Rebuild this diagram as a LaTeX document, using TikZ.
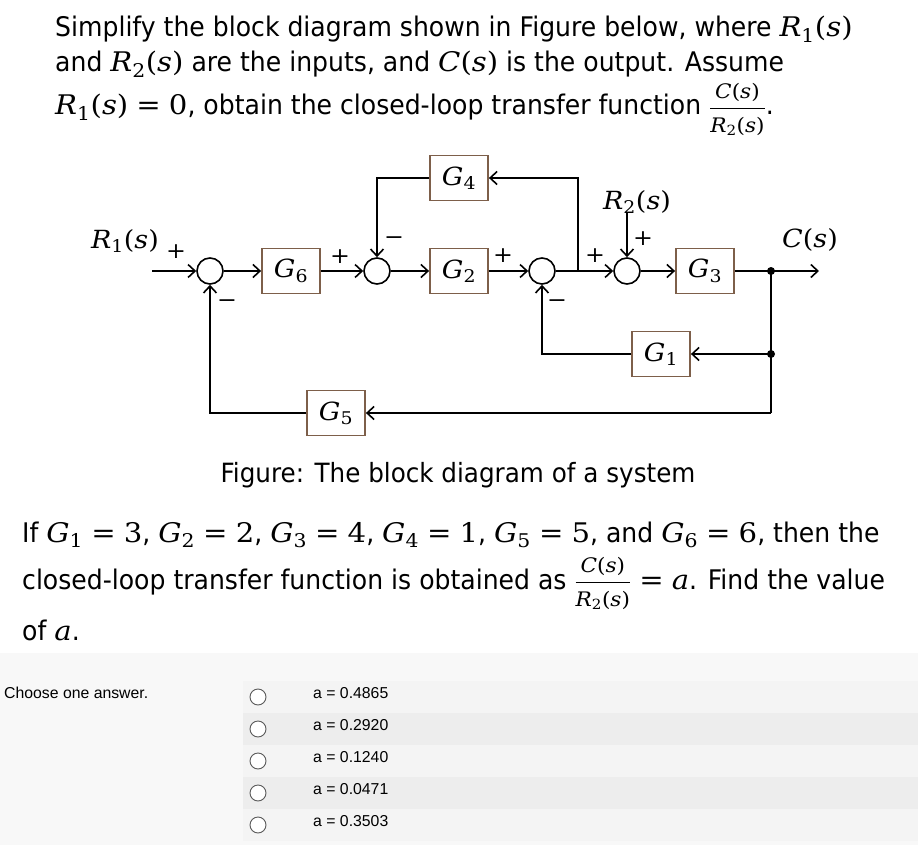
\documentclass[tikz,border=0pt]{standalone}
\usepackage{fontspec}
\setmainfont{DejaVu Sans}[FakeStretch=0.93]
\newfontfamily\arialf{Liberation Sans}
\newfontfamily\mfont{DejaVu Serif}[FakeStretch=1.08]
\usepackage{amsmath}
\usetikzlibrary{arrows.meta}
\newcommand\vi[1]{{\mfont\itshape #1}}
\newcommand\nm[1]{{\mfont #1}}
\newcommand\sbs[1]{\textsubscript{\mfont #1}}
\newcommand\meq{\hspace{0.3em}{\mfont =}\hspace{0.3em}}
\newcommand\Rs[1]{\vi{R}\sbs{#1}\nm{(}\vi{s}\nm{)}}
\newcommand\Cs{\vi{C}\nm{(}\vi{s}\nm{)}}
\newcommand\Gs[1]{\vi{G}\sbs{#1}}
\newcommand\frx{$\displaystyle\frac{\hbox{\fontsize{20}{20}\selectfont\Cs}}{\hbox{\fontsize{20}{20}\selectfont\Rs{2}}}$}
\definecolor{boxbrown}{HTML}{7D5F4A}
\definecolor{pagebg}{HTML}{F8F8F8}
\definecolor{rowlight}{HTML}{F4F4F4}
\definecolor{rowdark}{HTML}{EDEDED}
\definecolor{radiogray}{HTML}{5A5A5A}
\begin{document}
\begin{tikzpicture}[x=1pt,y=-1pt,
  blk/.style={draw=boxbrown, line width=1.8pt, minimum width=58pt, minimum height=45pt, inner sep=0pt, font=\fontsize{25}{28}\selectfont},
  sumj/.style={circle, draw, line width=1.6pt, minimum size=26pt, inner sep=0pt},
  sig/.style={line width=1.6pt, -{Straight Barb[length=7pt,width=13pt,line width=1.6pt]}},
  ln/.style={line width=1.6pt},
  sgn/.style={font=\mfont\fontsize{22}{22}\selectfont, inner sep=0pt},
  lbl/.style={font=\fontsize{25}{30}\selectfont, inner sep=0pt},
  dotn/.style={circle, fill, inner sep=0pt, minimum size=8pt},
  ttl/.style={anchor=base west, inner sep=0pt, font=\fontsize{27}{32}\selectfont},
  opt/.style={anchor=base west, inner sep=0pt, font=\arialf\fontsize{15.8}{18}\selectfont},
  radio/.style={circle, draw=radiogray, fill=white, line width=0.9pt, minimum size=16pt, inner sep=0pt},
]
\useasboundingbox (0,0) rectangle (918,845);
% backgrounds
\fill[white] (0,0) rectangle (918,845);
\fill[pagebg] (0,653) rectangle (918,845);
\fill[rowlight] (243,681) rectangle (918,713);
\fill[rowdark] (243,713) rectangle (918,745);
\fill[rowlight] (243,745) rectangle (918,777);
\fill[rowdark] (243,777) rectangle (918,809);
\fill[rowlight] (243,809) rectangle (918,841);

% title text
\node[ttl] (t1) at (55,37) {Simplify the block diagram shown in Figure below, where \Rs{1}};
\node[ttl] (t2) at (55,72) {and \Rs{2} are the inputs, and \Cs{} is the output. Assume};
\node[ttl] (t3) at (55,115) {\Rs{1}\meq\nm{0}, obtain the closed-loop transfer function \frx.};

% blocks
\node[blk] (G6) at (291,271) {\Gs{6}};
\node[blk] (G2) at (459,271) {\Gs{2}};
\node[blk] (G4) at (459,178) {\Gs{4}};
\node[blk] (G3) at (705,271) {\Gs{3}};
\node[blk] (G1) at (661,354) {\Gs{1}};
\node[blk] (G5) at (336,413) {\Gs{5}};

% summing junctions
\node[sumj] (s1) at (210,271) {};
\node[sumj] (s2) at (377,271) {};
\node[sumj] (s3) at (542,271) {};
\node[sumj] (s4) at (627,271) {};

% points
\coordinate (in) at (152,271);
\coordinate (out) at (819,271);
\coordinate (tk) at (578,271);
\coordinate (tkup) at (578,178);
\coordinate (g4l) at (377,178);
\coordinate (r2top) at (627,212);
\node[dotn] (d1) at (771,271) {};
\node[dotn] (d2) at (771,354) {};
\coordinate (rb) at (771,413);
\coordinate (g1l) at (542,354);
\coordinate (g5l) at (210,413);

% forward path
\draw[sig] (in) -- (s1.west);
\draw[sig] (s1.east) -- (G6.west);
\draw[sig] (G6.east) -- (s2.west);
\draw[sig] (s2.east) -- (G2.west);
\draw[sig] (G2.east) -- (s3.west);
\draw[sig] (s3.east) -- (s4.west);
\draw[sig] (s4.east) -- (G3.west);
\draw[ln] (G3.east) -- (d1.center);
\draw[sig] (d1.center) -- (out);
% G4 loop
\draw[sig] (tk) -- (tkup) -- (G4.east);
\draw[sig] (G4.west) -- (g4l) -- (s2.north);
% R2 input
\draw[sig] (r2top) -- (s4.north);
% G1 loop
\draw[ln] (d1.center) -- (rb);
\draw[sig] (d2.center) -- (G1.east);
\draw[sig] (G1.west) -- (g1l) -- (s3.south);
% G5 loop
\draw[sig] (rb) -- (G5.east);
\draw[sig] (G5.west) -- (g5l) -- (s1.south);

% labels and signs
\node[lbl] (lr1) at (125,241) {\Rs{1}};
\node[lbl] (lr2) at (637,202) {\Rs{2}};
\node[lbl] (lc) at (810,240) {\Cs};
\node[sgn] (p1) at (176,252) {+};
\node[sgn] (m1) at (227,304) {−};
\node[sgn] (p2) at (340,257) {+};
\node[sgn] (m2) at (394,241) {−};
\node[sgn] (p3) at (503,256) {+};
\node[sgn] (m3) at (557,304) {−};
\node[sgn] (p4) at (595,256) {+};
\node[sgn] (p5) at (643,239) {+};

% caption
\node[ttl, anchor=base, font=\fontsize{26.5}{32}\selectfont] (cap) at (458,482) {Figure: The block diagram of a system};

% question
\node[ttl] (q1) at (22,542) {If \Gs{1}\meq\nm{3}, \Gs{2}\meq\nm{2}, \Gs{3}\meq\nm{4}, \Gs{4}\meq\nm{1}, \Gs{5}\meq\nm{5}, and \Gs{6}\meq\nm{6}, then the};
\node[ttl] (q2) at (22,589) {closed-loop transfer function is obtained as \frx\meq\vi{a}. Find the value};
\node[ttl] (q3) at (22,640) {of \vi{a}.};

% answers
\node[opt] (choose) at (4,698) {Choose one answer.};
\node[radio] (o1) at (258,697) {};
\node[radio] (o2) at (258,729) {};
\node[radio] (o3) at (258,761) {};
\node[radio] (o4) at (258,793) {};
\node[radio] (o5) at (258,825) {};
\node[opt] (a1) at (313,698) {a = 0.4865};
\node[opt] (a2) at (313,730) {a = 0.2920};
\node[opt] (a3) at (313,762) {a = 0.1240};
\node[opt] (a4) at (313,794) {a = 0.0471};
\node[opt] (a5) at (313,826) {a = 0.3503};
\end{tikzpicture}
\end{document}
